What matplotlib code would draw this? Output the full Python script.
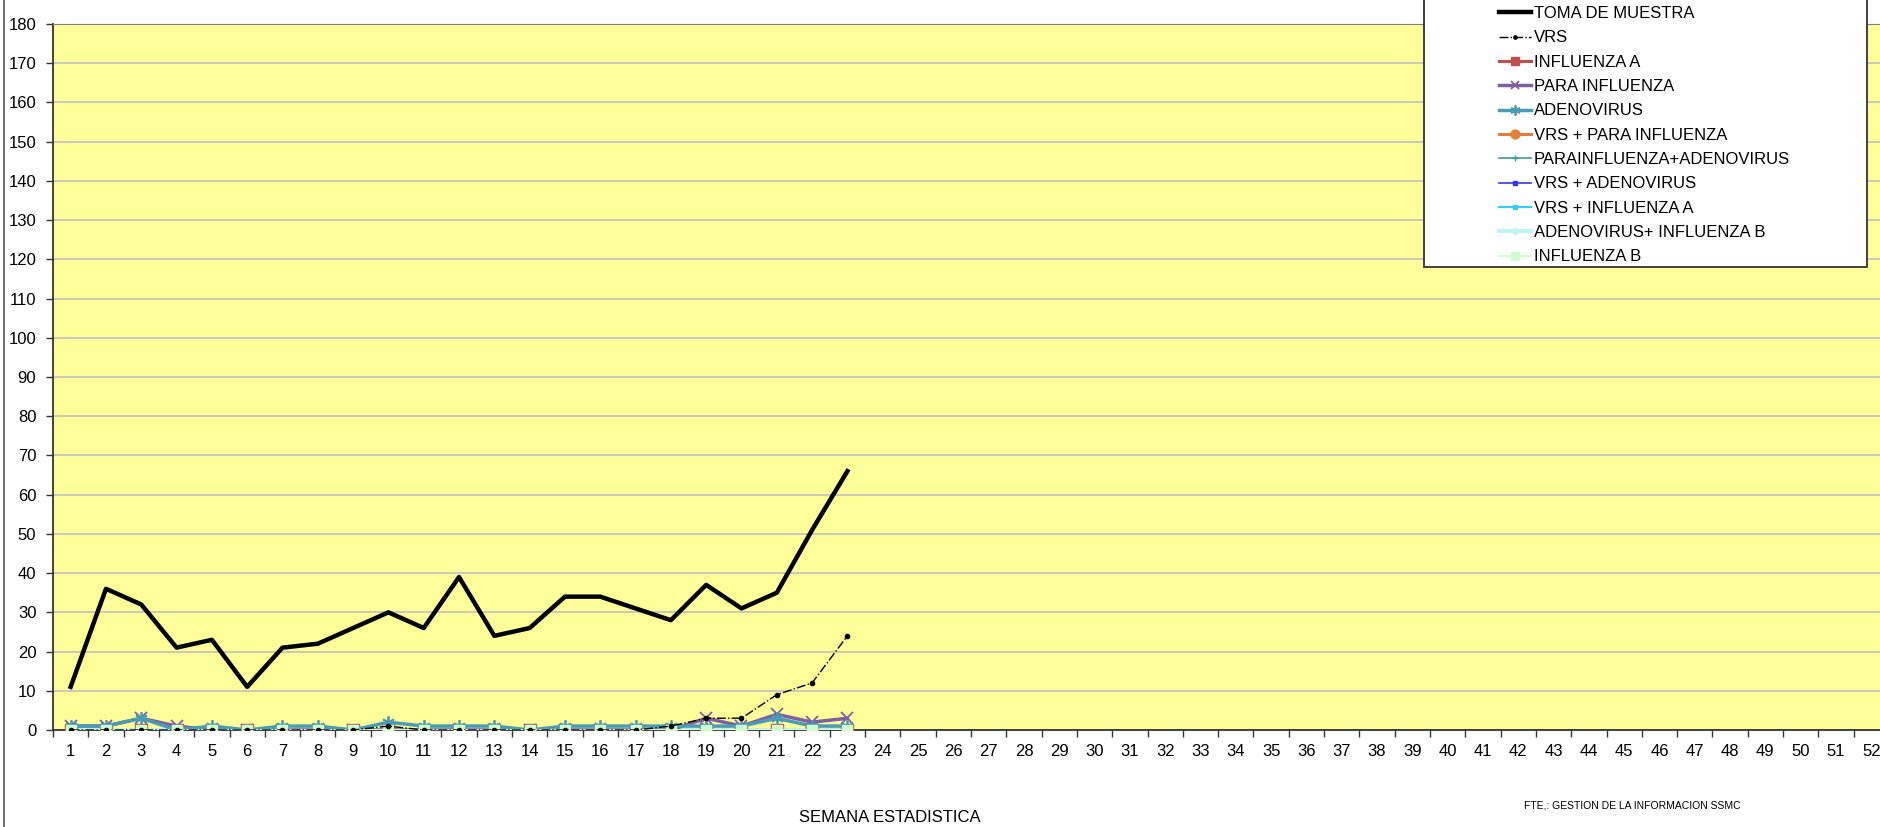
import numpy as np
import matplotlib
matplotlib.use("agg")
import matplotlib.pyplot as plt
from matplotlib.patches import Rectangle
from matplotlib.lines import Line2D

plt.rcParams['font.family'] = ['Liberation Sans', 'DejaVu Sans']

# semanas estadisticas
semanas = list(range(1, 53))
sem_datos = list(range(1, 24))

toma_muestra = [11, 36, 32, 21, 23, 11, 21, 22, 26, 30, 26, 39, 24, 26, 34, 34, 31, 28, 37, 31, 35, 51, 66]
vrs = [0, 0, 0, 0, 0, 0, 0, 0, 0, 1, 0, 0, 0, 0, 0, 0, 0, 1, 3, 3, 9, 12, 24]
influenza_a = [0] * 23
para_influenza = [1, 1, 3, 1, 0, 0, 0, 0, 0, 0, 0, 0, 0, 0, 0, 0, 0, 0, 3, 1, 4, 2, 3]
adenovirus = [1, 1, 3, 0, 1, 0, 1, 1, 0, 2, 1, 1, 1, 0, 1, 1, 1, 1, 1, 1, 3, 1, 1]
vrs_para = [0] * 23
para_adeno = [0] * 23
vrs_adeno = [0] * 23
vrs_infa = [0] * 23
adeno_infb = [0] * 23
influenza_b = [0] * 23

W, H = 1881, 827
fig = plt.figure(figsize=(W / 100, H / 100), dpi=100)
fig.patch.set_facecolor('white')

# area del grafico (px)
x0, x1, ytop, ybot = 53, 1889, 24, 730
ax = fig.add_axes([x0 / W, (H - ybot) / H, (x1 - x0) / W, (ybot - ytop) / H])
ax.set_facecolor('#FFFF99')

ax.plot(sem_datos, toma_muestra, color='black', lw=3.2, label='TOMA DE MUESTRA', zorder=5)
ax.plot(sem_datos, vrs, color='black', lw=1, ls='-.', marker='o', ms=3, label='VRS', zorder=4)
ax.plot(sem_datos, influenza_a, color='#C0504D', lw=2.2, marker='s', ms=8, label='INFLUENZA A', zorder=3)
ax.plot(sem_datos, para_influenza, color='#7E5FA0', lw=2.5, marker='x', ms=8, mew=1.3, label='PARA INFLUENZA', zorder=3)
ax.plot(sem_datos, adenovirus, color='#4A9BB5', lw=2.5, marker=(6, 2, 0), ms=9, mew=1.3, label='ADENOVIRUS', zorder=3)
ax.plot(sem_datos, vrs_para, color='#E0803A', lw=2.2, marker='o', ms=8, label='VRS + PARA INFLUENZA', zorder=2)
ax.plot(sem_datos, para_adeno, color='#3D9A8F', lw=1.2, marker='+', ms=6, label='PARAINFLUENZA+ADENOVIRUS', zorder=2)
ax.plot(sem_datos, vrs_adeno, color='#3333FF', lw=1.2, marker='s', ms=3, label='VRS + ADENOVIRUS', zorder=2)
ax.plot(sem_datos, vrs_infa, color='#33CCFF', lw=1.5, marker='s', ms=3, label='VRS + INFLUENZA A', zorder=2)
ax.plot(sem_datos, adeno_infb, color='#BFF5F5', lw=3, marker='D', ms=4, label='ADENOVIRUS+ INFLUENZA B', zorder=2.5)
ax.plot(sem_datos, influenza_b, color='#CCFFCC', lw=1.5, marker='s', ms=6.5, label='INFLUENZA B', zorder=3.5)

ax.set_xlim(0.5, 52.5)
ax.set_ylim(0, 180)
ax.set_yticks(np.arange(0, 181, 10))
ax.set_xticks(semanas)
ax.set_xticklabels([str(s) for s in semanas])
ax.set_xticks(np.arange(0.5, 53, 1), minor=True)
ax.tick_params(axis='x', which='major', length=0, labelsize=12, pad=10)
ax.tick_params(axis='x', which='minor', length=5, width=1, color='#333333', direction='out')
ax.tick_params(axis='y', length=5, width=1, color='#333333', labelsize=12, pad=7)
ax.yaxis.grid(True, color='#C0C0C0', lw=1.2)
ax.set_axisbelow(True)
ax.spines['right'].set_visible(False)
ax.spines['top'].set_color('#808080')
ax.spines['left'].set_color('#333333')
ax.spines['bottom'].set_color('#333333')
ax.spines['left'].set_linewidth(1.3)
ax.spines['bottom'].set_linewidth(1.3)

# marco del grafico
fig.add_artist(Line2D([4 / W, 4 / W], [0, 1], color='#555555', lw=1.2, transform=fig.transFigure))

# leyenda
fig.add_artist(Rectangle((1424 / W, (H - 267) / H), (1867 - 1424) / W, 300 / H,
                         transform=fig.transFigure, facecolor='white', edgecolor='#333333',
                         lw=1.3, zorder=4))
handles, labels = ax.get_legend_handles_labels()
leg = fig.legend(handles, labels, loc='upper left', bbox_to_anchor=(1499 / W, 1 - 6 / H),
                 bbox_transform=fig.transFigure, frameon=False, fontsize=12,
                 borderpad=0, borderaxespad=0, handlelength=1.9, handletextpad=0.2,
                 labelspacing=0.56, markerscale=0.8)
leg.set_zorder(5)

fig.text(890 / W, (H - 818) / H, 'SEMANA ESTADISTICA', ha='center', va='center', fontsize=12)
fig.text(1524 / W, (H - 805) / H, 'FTE,: GESTION DE LA INFORMACION SSMC', ha='left', va='center', fontsize=7.5)

fig.savefig('out.png', dpi=100)
